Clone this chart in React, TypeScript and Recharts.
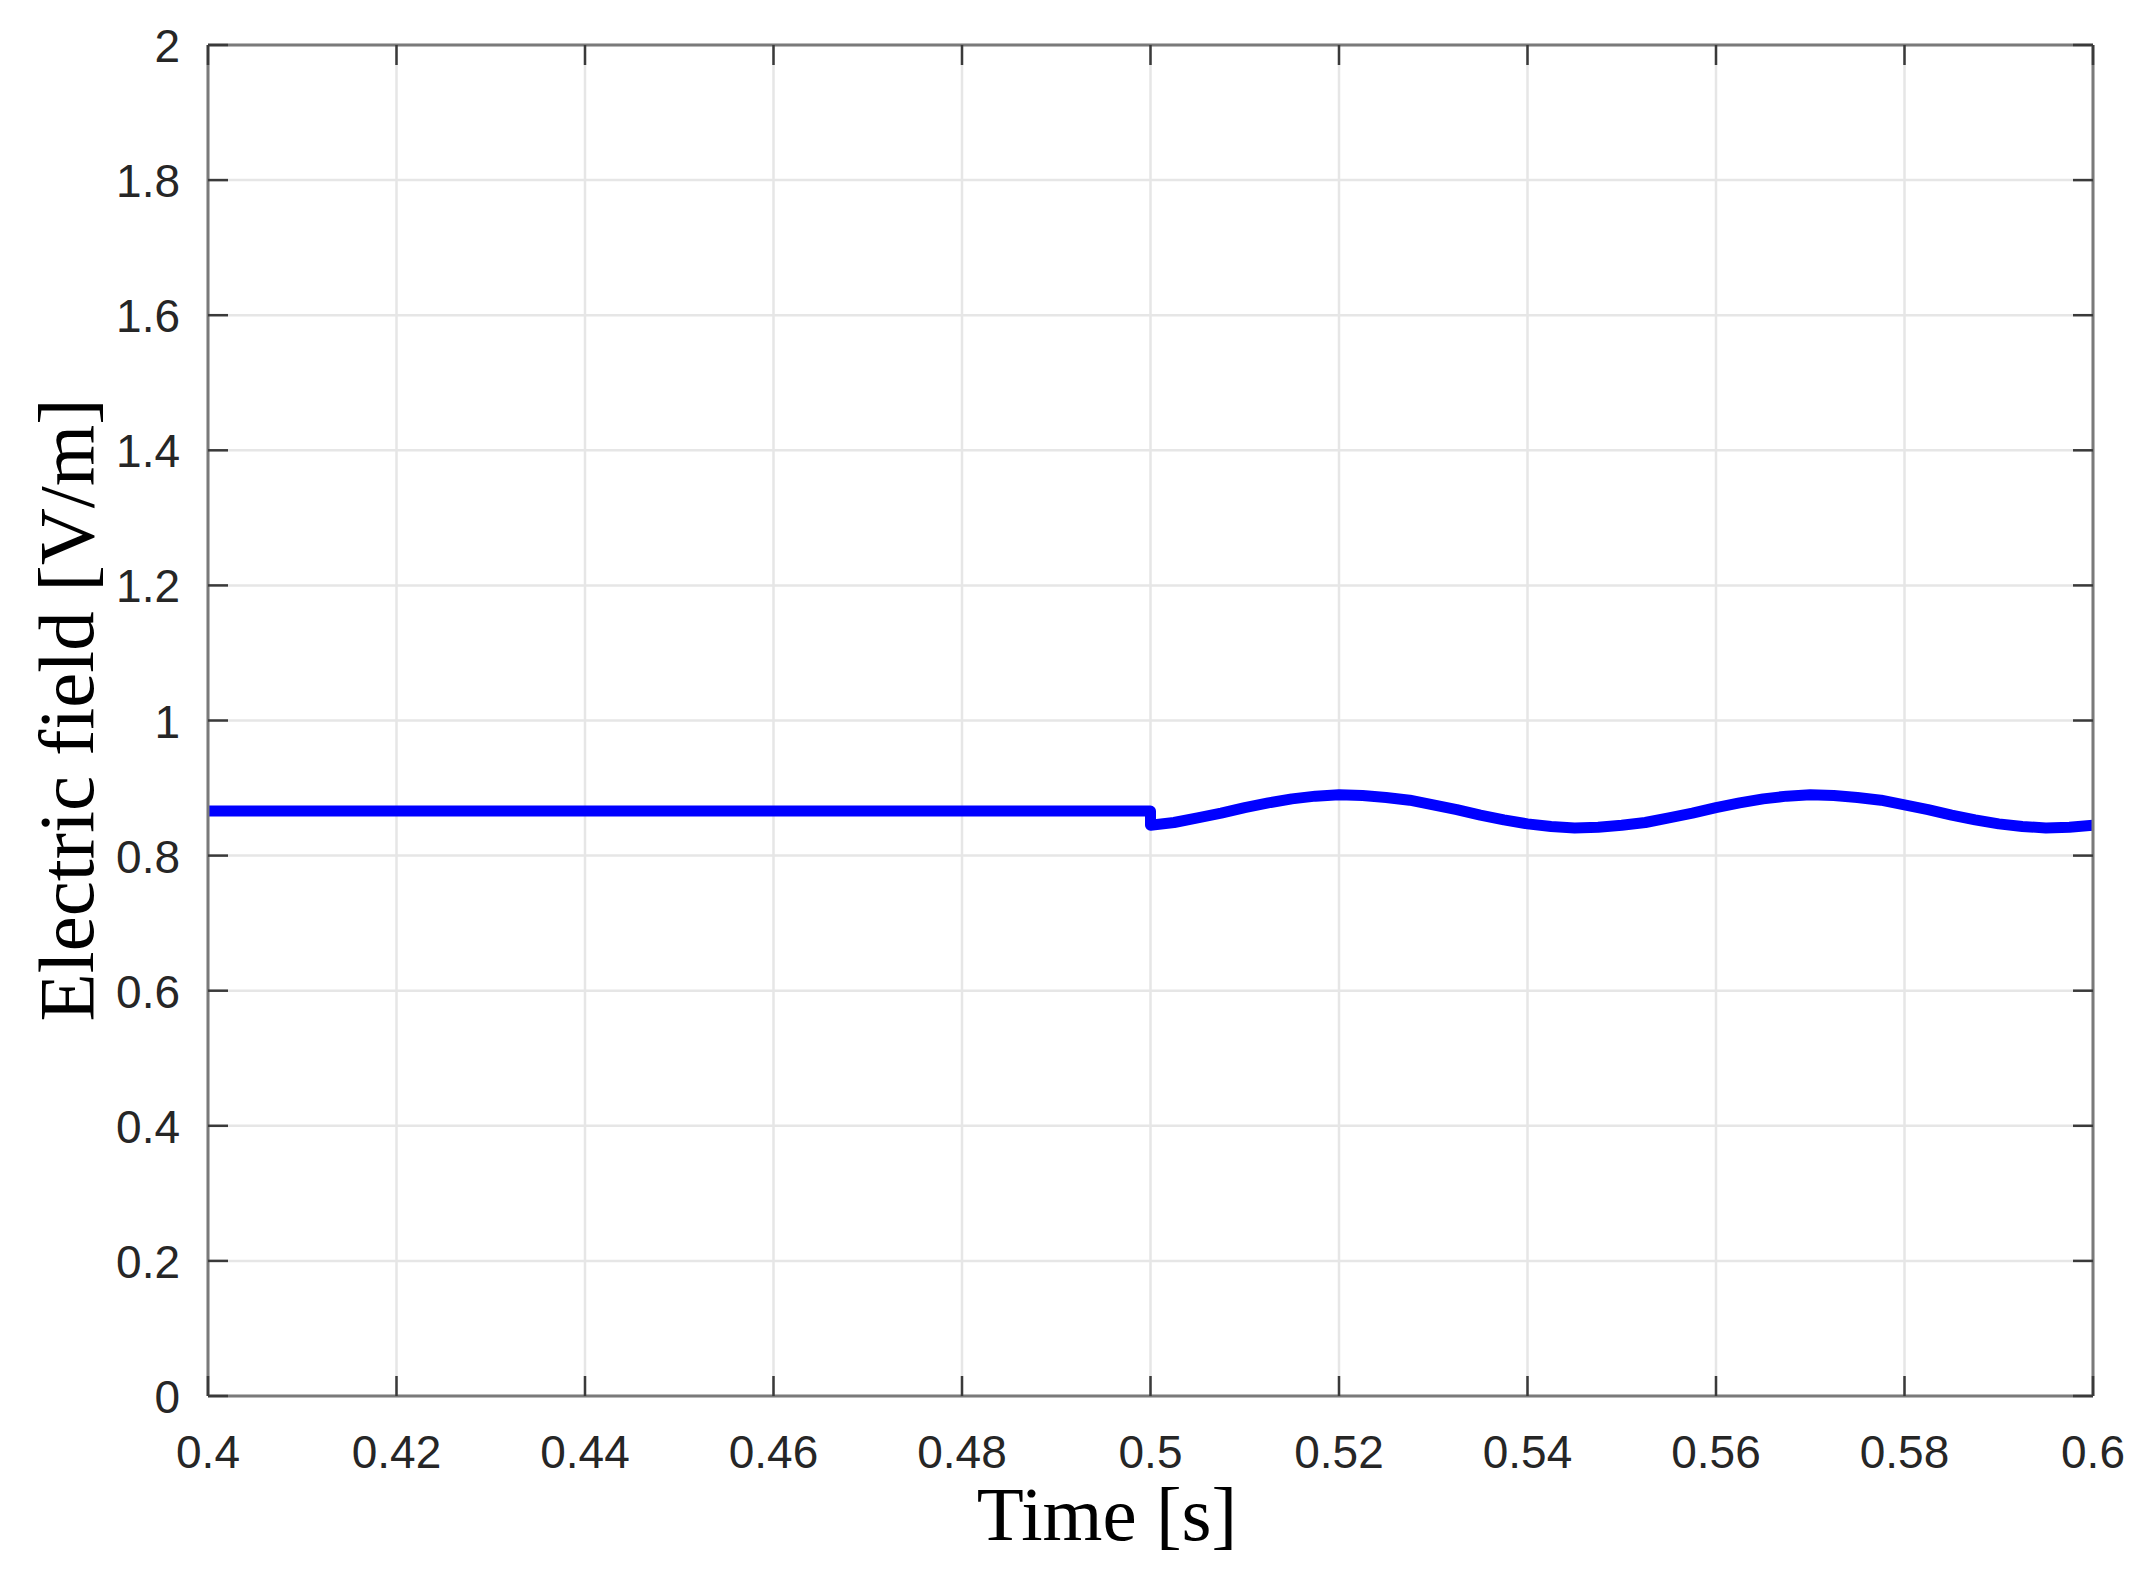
import React from "react";
import { LineChart, Line, XAxis, YAxis, CartesianGrid } from "recharts";

const timeValues = [
  0.4, 0.425, 0.45, 0.475, 0.5,
  0.5, 0.5025, 0.505, 0.5075, 0.51, 0.5125, 0.515, 0.5175, 0.52, 0.5225,
  0.525, 0.5275, 0.53, 0.5325, 0.535, 0.5375, 0.54, 0.5425, 0.545, 0.5475,
  0.55, 0.5525, 0.555, 0.5575, 0.56, 0.5625, 0.565, 0.5675, 0.57, 0.5725,
  0.575, 0.5775, 0.58, 0.5825, 0.585, 0.5875, 0.59, 0.5925, 0.595, 0.5975, 0.6,
];
const fieldValues = [
  0.866, 0.866, 0.866, 0.866, 0.866,
  0.845, 0.849, 0.856, 0.863, 0.871, 0.878, 0.884, 0.888, 0.89, 0.889,
  0.886, 0.882, 0.875, 0.868, 0.86, 0.853, 0.847, 0.843, 0.841, 0.842,
  0.845, 0.849, 0.856, 0.863, 0.871, 0.878, 0.884, 0.888, 0.89, 0.889,
  0.886, 0.882, 0.875, 0.868, 0.86, 0.853, 0.847, 0.843, 0.841, 0.842, 0.845,
];
const xTicks = [0.4, 0.42, 0.44, 0.46, 0.48, 0.5, 0.52, 0.54, 0.56, 0.58, 0.6];
const yTicks = [0, 0.2, 0.4, 0.6, 0.8, 1, 1.2, 1.4, 1.6, 1.8, 2];
const xTitle = "Time [s]";
const yTitle = "Electric field [V/m]";

const data = timeValues.map((t, i) => ({ t, v: fieldValues[i] }));

const W = 2136;
const H = 1573;
const TICK_LEN = 20;
const TICK_COLOR = "#3a3a3a";
const BOX_COLOR = "#7a7a7a";
const LABEL_FONT = "'Liberation Sans', Arial, sans-serif";
const TITLE_FONT = "'Liberation Serif', 'Times New Roman', serif";

const BottomTick = (props: any) => {
  const { x, y, payload } = props;
  return (
    <g>
      <line x1={x} y1={y} x2={x} y2={y - TICK_LEN} stroke={TICK_COLOR} strokeWidth={2.5} />
      <text x={x} y={y + 72} textAnchor="middle" fontSize={46} fontFamily={LABEL_FONT} fill="#262626">
        {String(payload.value)}
      </text>
    </g>
  );
};
const TopTick = (props: any) => {
  const { x, y } = props;
  return <line x1={x} y1={y} x2={x} y2={y + TICK_LEN} stroke={TICK_COLOR} strokeWidth={2.5} />;
};
const LeftTick = (props: any) => {
  const { x, y, payload } = props;
  return (
    <g>
      <line x1={x} y1={y} x2={x + TICK_LEN} y2={y} stroke={TICK_COLOR} strokeWidth={2.5} />
      <text x={x - 28} y={y + 17} textAnchor="end" fontSize={46} fontFamily={LABEL_FONT} fill="#262626">
        {String(payload.value)}
      </text>
    </g>
  );
};
const RightTick = (props: any) => {
  const { x, y } = props;
  return <line x1={x} y1={y} x2={x - TICK_LEN} y2={y} stroke={TICK_COLOR} strokeWidth={2.5} />;
};

export default function App() {
  return (
    <div style={{ position: "relative", width: W, height: H, background: "#fff" }}>
      <LineChart width={W} height={H} data={data} margin={{ top: 36, right: 50, bottom: 0, left: 0 }}>
        <CartesianGrid stroke="#e6e6e6" strokeWidth={2.5} />
        <XAxis
          dataKey="t"
          type="number"
          domain={[0.4, 0.6]}
          ticks={xTicks}
          interval={0}
          height={185}
          tickSize={0}
          tickMargin={0}
          tickLine={false}
          tick={<BottomTick />}
          axisLine={{ stroke: BOX_COLOR, strokeWidth: 3 }}
          allowDataOverflow
        />
        <XAxis
          xAxisId="top"
          orientation="top"
          dataKey="t"
          type="number"
          domain={[0.4, 0.6]}
          ticks={xTicks}
          interval={0}
          height={1}
          tickSize={0}
          tickMargin={0}
          tickLine={false}
          tick={<TopTick />}
          axisLine={{ stroke: BOX_COLOR, strokeWidth: 3 }}
          allowDataOverflow
        />
        <YAxis
          type="number"
          domain={[0, 2]}
          ticks={yTicks}
          interval={0}
          width={200}
          tickSize={0}
          tickMargin={0}
          tickLine={false}
          tick={<LeftTick />}
          axisLine={{ stroke: BOX_COLOR, strokeWidth: 3 }}
          allowDataOverflow
        />
        <YAxis
          yAxisId="right"
          orientation="right"
          type="number"
          domain={[0, 2]}
          ticks={yTicks}
          interval={0}
          width={1}
          tickSize={0}
          tickMargin={0}
          tickLine={false}
          tick={<RightTick />}
          axisLine={{ stroke: BOX_COLOR, strokeWidth: 3 }}
          allowDataOverflow
        />
        <Line
          dataKey="v"
          type="linear"
          stroke="#0000ff"
          strokeWidth={11}
          strokeLinejoin="round"
          dot={false}
          activeDot={false}
          isAnimationActive={false}
        />
      </LineChart>
      <svg width={W} height={H} style={{ position: "absolute", left: 0, top: 0, pointerEvents: "none" }}>
        <text
          transform="translate(85,702) rotate(-90)"
          textAnchor="middle"
          fontSize={79}
          fontFamily={TITLE_FONT}
          fill="#000"
        >
          {yTitle}
        </text>
        <text x={1099} y={1532} textAnchor="middle" fontSize={77} fontFamily={TITLE_FONT} fill="#000">
          {xTitle}
        </text>
      </svg>
    </div>
  );
}
